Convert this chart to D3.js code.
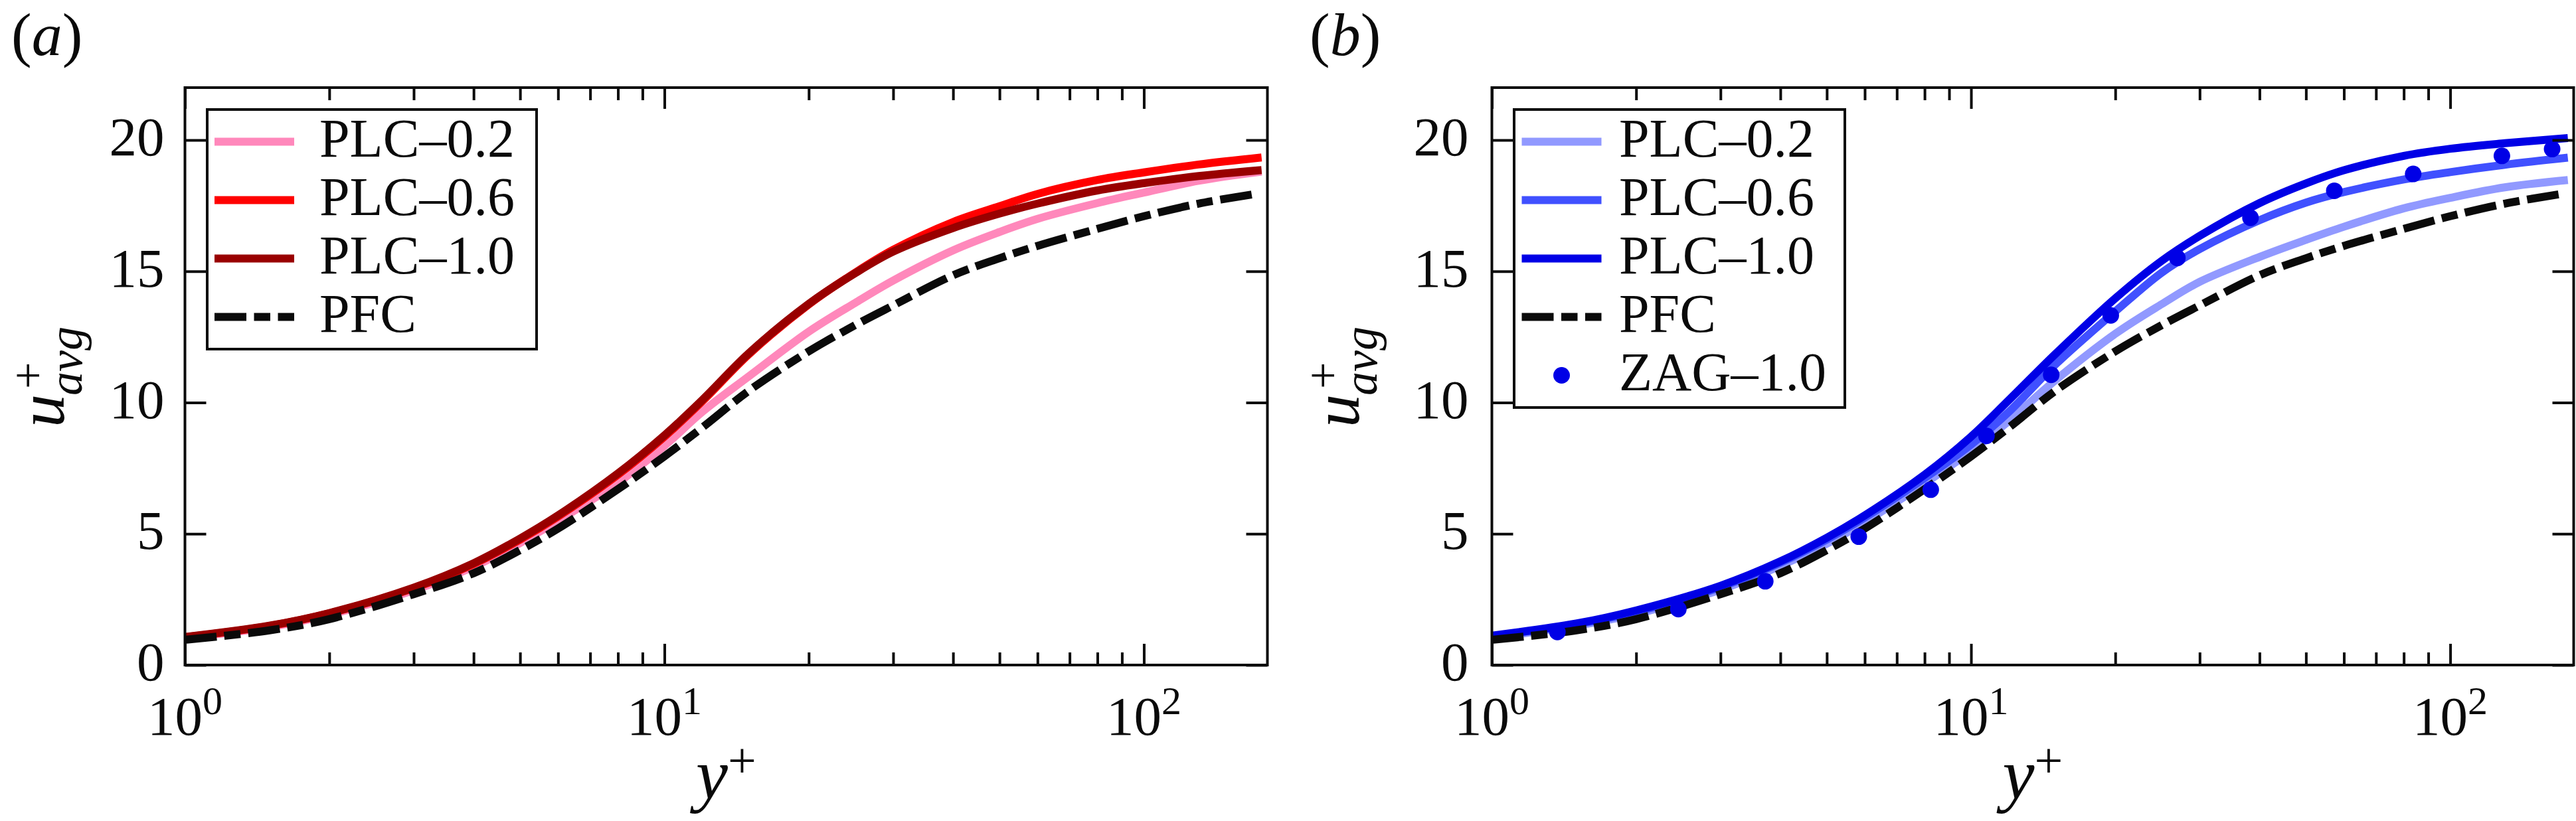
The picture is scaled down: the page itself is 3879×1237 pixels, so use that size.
<!DOCTYPE html>
<html>
<head>
<meta charset="utf-8">
<script src="https://cdn.jsdelivr.net/npm/d3@7"></script>
<style>
  body { margin: 0; background: #fff; }
  svg { display: block; font-family: 'Liberation Serif', 'Times New Roman', serif; }
</style>
</head>
<body>
<svg id="chart" width="3879" height="1237"></svg>
<script>
// values: u+_avg against y+
const yPlus = [1, 1.5, 2, 3, 4, 5, 6, 8, 10, 12, 15, 20, 25, 30, 40, 50, 60, 80, 100, 130, 176]
const yPlusPfc = [1, 1.5, 2, 3, 4, 5, 6, 8, 10, 12, 15, 20, 25, 30, 40, 50, 60, 80, 100, 130, 171]

const pfc = [0.96, 1.32, 1.75, 2.7, 3.5, 4.38, 5.2, 6.7, 7.95, 9.05, 10.45, 11.95, 12.95, 13.7, 14.85, 15.5, 15.97, 16.62, 17.1, 17.58, 17.95]

// panel (a)
const plcA02 = [1.03, 1.45, 1.92, 2.85, 3.75, 4.65, 5.5, 6.95, 8.35, 9.65, 11.0, 12.7, 13.8, 14.65, 15.8, 16.5, 17.0, 17.6, 18.0, 18.45, 18.8]
const plcA06 = [1.06, 1.49, 1.97, 2.93, 3.85, 4.78, 5.66, 7.25, 8.7, 10.05, 11.84, 13.74, 14.95, 15.82, 16.88, 17.48, 17.95, 18.48, 18.77, 19.07, 19.34]
const plcA10 = [1.07, 1.5, 1.98, 2.95, 3.88, 4.82, 5.7, 7.3, 8.75, 10.1, 11.88, 13.76, 14.93, 15.75, 16.65, 17.2, 17.58, 18.08, 18.36, 18.63, 18.86]

// panel (b)
const plcB02 = [1.05, 1.5, 1.95, 2.87, 3.78, 4.62, 5.45, 6.92, 8.15, 9.3, 10.85, 12.62, 13.75, 14.6, 15.55, 16.2, 16.7, 17.4, 17.8, 18.2, 18.48]
const plcB06 = [1.1, 1.55, 2.03, 2.97, 3.9, 4.78, 5.62, 7.12, 8.4, 9.65, 11.45, 13.47, 14.95, 15.85, 16.95, 17.62, 18.02, 18.5, 18.78, 19.06, 19.33]
const plcB10 = [1.12, 1.58, 2.08, 3.02, 3.95, 4.85, 5.7, 7.25, 8.7, 10.1, 11.85, 13.97, 15.4, 16.35, 17.6, 18.35, 18.85, 19.4, 19.67, 19.88, 20.08]

const zagYPlus = [1.37, 2.45, 3.72, 5.83, 8.24, 10.77, 14.7, 19.57, 26.95, 38.3, 57.3, 83.7, 128.2, 163.2]
const zagU = [1.26, 2.13, 3.19, 4.89, 6.68, 8.73, 11.06, 13.32, 15.51, 17.04, 18.07, 18.71, 19.4, 19.66]

const yTicks = [0, 5, 10, 15, 20]
const xTicks = [1, 10, 100]
const xMinorTicks = [2, 3, 4, 5, 6, 7, 8, 9, 20, 30, 40, 50, 60, 70, 80, 90]

const plotTop = 132, plotBottom = 1002
const black = '#0a0a0a'
const pfcDash = '48 11.5 24.5 11.5'

const zip = (xs, ys) => xs.map((v, i) => [v, ys[i]])

const panels = [
  {
    tag: 'a', left: 278.5, right: 1908.5, labelX: 17, yLabelOff: -182.5, yTickPad: 31,
    legend: { x: 312, w: 496, lineX: 11, textX: 169 },
    series: [
      { name: 'PLC–0.2', data: zip(yPlus, plcA02), color: '#ff88bb' },
      { name: 'PLC–0.6', data: zip(yPlus, plcA06), color: '#ff0000' },
      { name: 'PLC–1.0', data: zip(yPlus, plcA10), color: '#990000' },
      { name: 'PFC', data: zip(yPlusPfc, pfc), color: black, dash: pfcDash },
    ],
  },
  {
    tag: 'b', left: 2246.5, right: 3875.5, labelX: 1972, yLabelOff: -200.5, yTickPad: 35,
    legend: { x: 2280, w: 498, lineX: 11.5, textX: 158 },
    series: [
      { name: 'PLC–0.2', data: zip(yPlus, plcB02), color: '#9199ff' },
      { name: 'PLC–0.6', data: zip(yPlus, plcB06), color: '#4050ff' },
      { name: 'PLC–1.0', data: zip(yPlus, plcB10), color: '#0000e6' },
      { name: 'PFC', data: zip(yPlusPfc, pfc), color: black, dash: pfcDash },
      { name: 'ZAG–1.0', data: zip(zagYPlus, zagU), color: '#0000e6', dots: true },
    ],
  },
]

const svg = d3.select('#chart')

panels.forEach(drawPanel)

function drawPanel(p) {
  let x = d3.scaleLog().domain([1, 181]).range([p.left, p.right])
  let y = d3.scaleLinear().domain([0, 22]).range([plotBottom, plotTop])
  let g = svg.append('g').attr('class', `panel-${p.tag}`)

  // curves first, frame and ticks drawn over them
  let clipId = `clip-${p.tag}`
  g.append('clipPath').attr('id', clipId)
    .append('rect')
    .attr('x', p.left).attr('y', plotTop)
    .attr('width', p.right - p.left).attr('height', plotBottom - plotTop)

  let plot = g.append('g').attr('clip-path', `url(#${clipId})`)
  let line = d3.line()
    .x(d => x(d[0]))
    .y(d => y(d[1]))
    .curve(d3.curveCatmullRom.alpha(0.5))

  p.series.forEach(s => {
    if (s.dots) {
      plot.selectAll(null)
        .data(s.data)
        .join('circle')
        .attr('cx', d => x(d[0]))
        .attr('cy', d => y(d[1]))
        .attr('r', 12.5)
        .attr('fill', s.color)
    } else {
      plot.append('path')
        .attr('d', line(s.data))
        .attr('fill', 'none')
        .attr('stroke', s.color)
        .attr('stroke-width', 12)
        .attr('stroke-dasharray', s.dash || null)
    }
  })

  // axes, ticks inward on all four sides
  let axes = [
    [d3.axisBottom(x), `translate(0,${plotBottom})`, xTicks, xMinorTicks],
    [d3.axisTop(x), `translate(0,${plotTop})`, xTicks, xMinorTicks],
    [d3.axisLeft(y), `translate(${p.left},0)`, yTicks, []],
    [d3.axisRight(y), `translate(${p.right},0)`, yTicks, []],
  ]
  axes.forEach(([ax, tr, major, minor]) => {
    g.append('g').attr('transform', tr)
      .call(ax.tickValues(major).tickSize(-32).tickFormat(() => ''))
      .call(a => a.select('.domain').remove())
    if (minor.length) {
      g.append('g').attr('transform', tr)
        .call(ax.tickValues(minor).tickSize(-19).tickFormat(() => ''))
        .call(a => a.select('.domain').remove())
    }
  })
  g.selectAll('.tick line').attr('stroke', black).attr('stroke-width', 4)

  g.append('rect')
    .attr('x', p.left).attr('y', plotTop)
    .attr('width', p.right - p.left).attr('height', plotBottom - plotTop)
    .attr('fill', 'none').attr('stroke', black).attr('stroke-width', 4)

  // tick labels
  g.selectAll('text.ytick')
    .data(yTicks)
    .join('text')
    .attr('class', 'ytick')
    .attr('x', p.left - p.yTickPad)
    .attr('y', d => y(d) + 23)
    .attr('text-anchor', 'end')
    .attr('font-size', 83)
    .attr('fill', black)
    .text(d => d)

  g.selectAll('text.xtick')
    .data(xTicks)
    .join('text')
    .attr('class', 'xtick')
    .attr('x', d => x(d))
    .attr('y', plotBottom + 105)
    .attr('text-anchor', 'middle')
    .attr('font-size', 83)
    .attr('fill', black)
    .each(function (d) {
      let t = d3.select(this)
      t.append('tspan').text('10')
      t.append('tspan').attr('dy', -31).attr('font-size', 60).text(Math.round(Math.log10(d)))
    })

  // x label y+
  let xl = g.append('text')
    .attr('x', (p.left + p.right) / 2)
    .attr('y', 1203)
    .attr('text-anchor', 'middle')
    .attr('fill', black)
  xl.append('tspan').attr('font-size', 108).attr('font-style', 'italic').text('y')
  xl.append('tspan').attr('font-size', 76).attr('dy', -32).text('+')

  // y label u+_avg, rotated
  let yl = g.append('g')
    .attr('transform', `translate(${p.left + p.yLabelOff},${(plotTop + plotBottom) / 2}) rotate(-90)`)
  let u = yl.append('text').attr('font-size', 100).attr('font-style', 'italic').attr('fill', black).text('u')
  let uw = u.node().getComputedTextLength()
  let sup = yl.append('text').attr('font-size', 72).attr('fill', black).attr('y', -30).text('+')
  let sub = yl.append('text').attr('font-size', 72).attr('font-style', 'italic').attr('fill', black).attr('y', 27).text('avg')
  let total = uw + Math.max(sub.node().getComputedTextLength(), sup.node().getComputedTextLength() + 10)
  u.attr('x', -total / 2)
  sub.attr('x', -total / 2 + uw - 2)
  sup.attr('x', -total / 2 + uw + 8)

  // panel tag
  let pl = g.append('text').attr('x', p.labelX).attr('y', 83).attr('font-size', 92).attr('fill', black)
  pl.append('tspan').text('(')
  pl.append('tspan').attr('font-style', 'italic').text(p.tag)
  pl.append('tspan').text(')')

  // legend
  let lg = p.legend
  let rowY = i => 213.5 + i * 88
  let n = p.series.length
  g.append('rect')
    .attr('x', lg.x).attr('y', rowY(0) - 48.5)
    .attr('width', lg.w).attr('height', rowY(n - 1) - rowY(0) + 97)
    .attr('fill', '#fff').attr('stroke', black).attr('stroke-width', 4)

  let rows = g.selectAll('g.lg-row')
    .data(p.series)
    .join('g')
    .attr('class', 'lg-row')
    .attr('transform', (d, i) => `translate(${lg.x},${rowY(i)})`)

  rows.each(function (s) {
    let r = d3.select(this)
    if (s.dots) {
      r.append('circle').attr('cx', lg.lineX + 60).attr('cy', 0).attr('r', 12.5).attr('fill', s.color)
    } else {
      r.append('line')
        .attr('x1', lg.lineX).attr('x2', lg.lineX + 120)
        .attr('y1', 0).attr('y2', 0)
        .attr('stroke', s.color)
        .attr('stroke-width', 12)
        .attr('stroke-dasharray', s.dash || null)
    }
    r.append('text')
      .attr('x', lg.textX)
      .attr('y', 22)
      .attr('font-size', 82)
      .attr('fill', black)
      .text(s.name)
  })
}
</script>
</body>
</html>
